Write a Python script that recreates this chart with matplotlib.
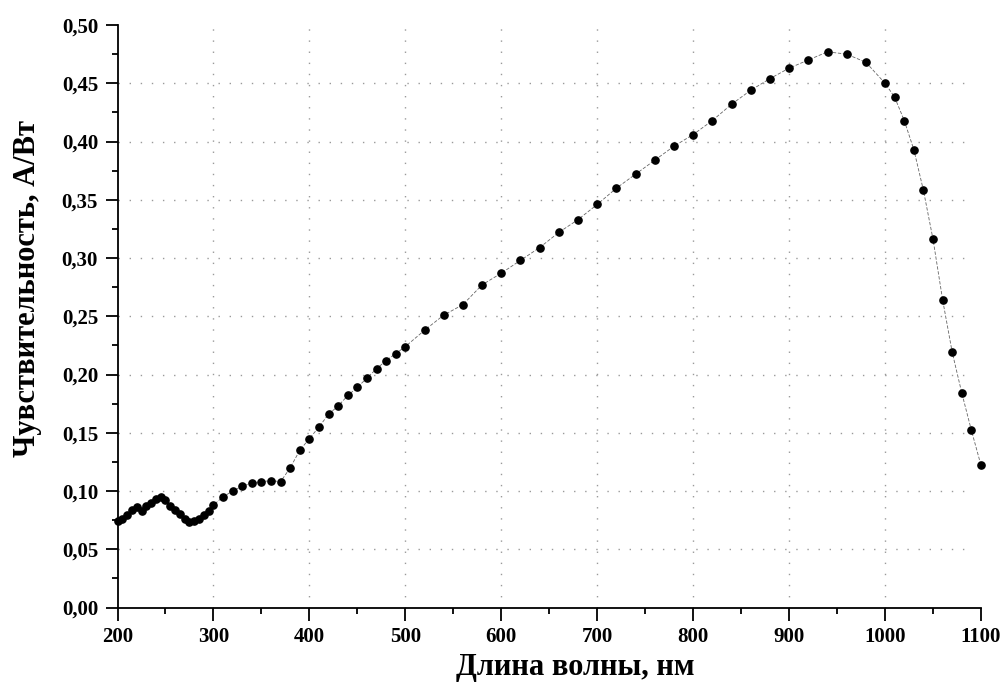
import matplotlib

matplotlib.use("Agg")
import matplotlib.pyplot as plt
from matplotlib.ticker import FuncFormatter, MultipleLocator

# spectral sensitivity
wavelength_nm = [
    200, 205, 210, 215, 220, 225, 230, 235, 240, 245, 250, 255, 260, 265, 270,
    275, 280, 285, 290, 295, 300,
    310, 320, 330, 340, 350, 360, 370, 380, 390, 400, 410, 420, 430, 440, 450,
    460, 470, 480, 490, 500,
    520, 540, 560, 580, 600, 620, 640, 660, 680, 700, 720, 740, 760, 780, 800,
    820, 840, 860, 880, 900, 920, 940, 960, 980, 1000,
    1010, 1020, 1030, 1040, 1050, 1060, 1070, 1080, 1090, 1100,
]
sensitivity = [
    0.074, 0.076, 0.079, 0.084, 0.086, 0.083, 0.087, 0.090, 0.093, 0.095, 0.092,
    0.087, 0.084, 0.080, 0.076, 0.073, 0.074, 0.076, 0.079, 0.083, 0.088,
    0.095, 0.100, 0.104, 0.107, 0.108, 0.109, 0.108, 0.120, 0.135, 0.145, 0.155,
    0.166, 0.173, 0.182, 0.189, 0.197, 0.205, 0.212, 0.218, 0.224,
    0.238, 0.251, 0.260, 0.277, 0.287, 0.298, 0.309, 0.322, 0.333, 0.346, 0.360,
    0.372, 0.384, 0.396, 0.406, 0.418, 0.432, 0.444, 0.454, 0.463, 0.470, 0.477,
    0.475, 0.468, 0.450,
    0.438, 0.418, 0.393, 0.358, 0.316, 0.264, 0.219, 0.184, 0.152, 0.122,
]

x_label = "Длина волны, нм"
y_label = "Чувствительность, А/Вт"

plt.rcParams["font.family"] = ["Liberation Serif", "DejaVu Serif"]
plt.rcParams["font.weight"] = "bold"

fig = plt.figure(figsize=(10.07, 6.82), dpi=100)
ax = fig.add_axes([0.1167, 0.1092, 0.8575, 0.8541])

ax.set_xlim(200, 1100)
ax.set_ylim(0.0, 0.5)
ax.xaxis.set_major_locator(MultipleLocator(100))
ax.xaxis.set_minor_locator(MultipleLocator(50))
ax.yaxis.set_major_locator(MultipleLocator(0.05))
ax.yaxis.set_minor_locator(MultipleLocator(0.025))
ax.yaxis.set_major_formatter(FuncFormatter(lambda v, _: f"{v:.2f}".replace(".", ",")))

# dotted grid, only inside the frame
for xv in range(300, 1001, 100):
    ax.axvline(xv, color="#9a9a9a", lw=1.0, ls=(0, (1, 7)), zorder=0)
for yv in [0.05, 0.10, 0.15, 0.20, 0.25, 0.30, 0.35, 0.40, 0.45]:
    ax.axhline(yv, xmax=0.99, color="#9a9a9a", lw=1.0, ls=(0, (1, 7)), zorder=0)

ax.plot(wavelength_nm, sensitivity, color="#666666", lw=0.6, ls=(0, (4, 2)),
        marker="o", ms=5.2, mfc="black", mec="black", zorder=3, clip_on=False)

for side in ("top", "right"):
    ax.spines[side].set_visible(False)
for side in ("left", "bottom"):
    ax.spines[side].set_linewidth(1.3)

ax.tick_params(which="major", direction="out", length=9, width=1.3, labelsize=15, pad=5)
ax.tick_params(which="minor", direction="out", length=4, width=1.3)
for lab in ax.get_xticklabels() + ax.get_yticklabels():
    lab.set_fontweight("bold")

ax.set_xlabel(x_label, fontsize=22, fontweight="bold")
ax.set_ylabel(y_label, fontsize=22, fontweight="bold")
ax.xaxis.set_label_coords(0.53, -0.078)
ax.yaxis.set_label_coords(-0.087, 0.547)

fig.savefig("out.png", dpi=100)
